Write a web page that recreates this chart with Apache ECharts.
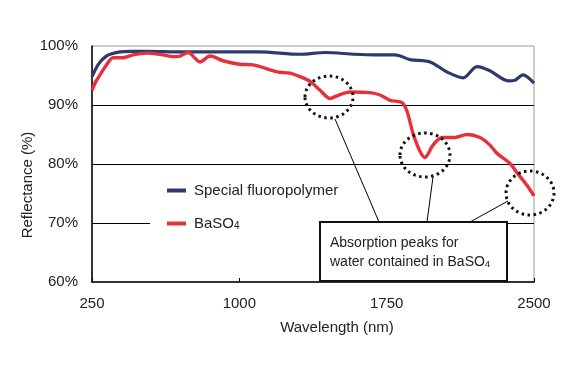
<!DOCTYPE html>
<html>
<head>
<meta charset="utf-8">
<script src="https://cdn.jsdelivr.net/npm/echarts@6/dist/echarts.min.js"></script>
<style>
html,body{margin:0;padding:0;background:#fff;}
#c{width:570px;height:372px;}
</style>
</head>
<body>
<div id="c"></div>
<script>
const seriesNames = ['Special fluoropolymer', 'BaSO4'];
const xTickLabels = [250, 1000, 1750, 2500];
const yTickLabels = [60, 70, 80, 90, 100];

const fluoroWavelength = [250, 270, 291, 320, 342, 393, 443, 530, 700, 850, 1000, 1100, 1309, 1437, 1589, 1690, 1716, 1793, 1869, 1971, 2057, 2139, 2210, 2276, 2368, 2403, 2444, 2500];
const fluoroReflect    = [94.8, 96.2, 97.3, 98.2, 98.6, 99.0, 99.1, 99.1, 99.0, 99.0, 99.0, 99.0, 98.6, 98.9, 98.6, 98.5, 98.5, 98.5, 97.7, 97.3, 95.6, 94.6, 96.5, 95.8, 94.1, 94.2, 95.1, 93.7];

const baso4Wavelength = [250, 270, 291, 320, 357, 408, 459, 530, 611, 662, 698, 739, 800, 851, 917, 1003, 1070, 1192, 1258, 1309, 1360, 1411, 1462, 1500, 1563, 1665, 1716, 1767, 1828, 1854, 1884, 1920, 1945, 1986, 2032, 2098, 2159, 2225, 2276, 2312, 2378, 2414, 2464, 2500];
const baso4Reflect    = [92.5, 94.0, 95.1, 96.6, 98.0, 98.0, 98.5, 98.8, 98.5, 98.2, 98.3, 98.9, 97.3, 98.3, 97.5, 96.9, 96.8, 95.6, 95.4, 94.8, 94.0, 92.5, 91.1, 91.6, 92.2, 92.1, 91.7, 90.8, 90.4, 88.9, 85.2, 82.1, 81.1, 83.2, 84.5, 84.5, 85.0, 84.5, 83.2, 81.8, 80.1, 78.5, 76.4, 74.6];

const FONT = '"Liberation Sans", Arial, Helvetica, sans-serif';

const chart = echarts.init(document.getElementById('c'), null, {renderer: 'canvas'});

const subRich = {
  s: {fontSize: 10, fontFamily: FONT, color: '#222', verticalAlign: 'bottom', padding: [1, 0, 0, 0]}
};

chart.setOption({
  animation: false,
  backgroundColor: '#ffffff',
  grid: {
    left: 92, right: 36, top: 46, bottom: 90,
    show: true, borderColor: '#9a9a9a', borderWidth: 1, backgroundColor: 'transparent'
  },
  legend: {
    orient: 'vertical',
    left: 162, top: 178,
    z: 200,
    icon: 'rect',
    itemWidth: 19, itemHeight: 4,
    itemGap: 18,
    data: seriesNames,
    formatter: function (name) { return name === 'BaSO4' ? 'BaSO{s|4}' : name; },
    textStyle: {fontFamily: FONT, fontSize: 15, color: '#222', padding: [0, 0, 0, 3], rich: subRich}
  },
  xAxis: {
    type: 'value',
    min: 250, max: 2500,
    axisLine: {show: true, lineStyle: {color: '#000', width: 1.5}},
    axisTick: {show: true, inside: true, length: 4, lineStyle: {color: '#000'}, customValues: xTickLabels},
    axisLabel: {customValues: xTickLabels, margin: 14, fontFamily: FONT, fontSize: 15, color: '#222',
                formatter: function (v) { return String(v); }},
    splitLine: {show: false}
  },
  yAxis: {
    type: 'value',
    min: 60, max: 100, interval: 10,
    axisLine: {show: true, lineStyle: {color: '#000', width: 1.5}},
    axisTick: {show: false},
    axisLabel: {margin: 14, fontFamily: FONT, fontSize: 15, color: '#222', formatter: '{value}%'},
    splitLine: {show: true, showMinLine: false, showMaxLine: false, lineStyle: {color: '#000', width: 1}}
  },
  series: [
    {
      name: seriesNames[0], type: 'line', showSymbol: false, smooth: 0.3,
      z: 3,
      lineStyle: {color: '#2e3a6c', width: 3.2},
      itemStyle: {color: '#2e3a6c'},
      data: fluoroWavelength.map((w, i) => [w, fluoroReflect[i]])
    },
    {
      name: seriesNames[1], type: 'line', showSymbol: false, smooth: 0.3,
      z: 4,
      lineStyle: {color: '#e5323a', width: 3.4},
      itemStyle: {color: '#e5323a'},
      data: baso4Wavelength.map((w, i) => [w, baso4Reflect[i]])
    }
  ],
  graphic: [
    {type: 'rect', z: 50, shape: {x: 150, y: 200, width: 170, height: 35}, style: {fill: '#fff'}},
    {type: 'text', z: 60, x: 28, y: 185, rotation: Math.PI / 2,
     style: {text: 'Reflectance (%)', font: '15px ' + FONT, fill: '#222', align: 'center', verticalAlign: 'middle'}},
    {type: 'text', z: 60, x: 337, y: 328,
     style: {text: 'Wavelength (nm)', font: '15px ' + FONT, fill: '#222', align: 'center', verticalAlign: 'middle'}},
    {type: 'line', z: 60, shape: {x1: 335, y1: 119, x2: 379, y2: 222}, style: {stroke: '#000', lineWidth: 1}},
    {type: 'line', z: 60, shape: {x1: 433, y1: 177, x2: 427, y2: 222}, style: {stroke: '#000', lineWidth: 1}},
    {type: 'line', z: 60, shape: {x1: 508, y1: 201, x2: 470, y2: 222}, style: {stroke: '#000', lineWidth: 1}},
    {type: 'ellipse', z: 70, shape: {cx: 329, cy: 97, rx: 24, ry: 21}, style: {fill: null, stroke: '#111', lineWidth: 3, lineDash: [2.5, 3.5]}},
    {type: 'ellipse', z: 70, shape: {cx: 425, cy: 155, rx: 25, ry: 22}, style: {fill: null, stroke: '#111', lineWidth: 3, lineDash: [2.5, 3.5]}},
    {type: 'ellipse', z: 70, shape: {cx: 530, cy: 193, rx: 24, ry: 22}, style: {fill: null, stroke: '#111', lineWidth: 3, lineDash: [2.5, 3.5]}},
    {type: 'rect', z: 80, shape: {x: 320, y: 222, width: 187, height: 59}, style: {fill: '#fff', stroke: '#111', lineWidth: 2}},
    {type: 'text', z: 90, x: 330, y: 234,
     style: {text: 'Absorption peaks for\nwater contained in BaSO{s|4}', font: '14px ' + FONT, fill: '#222',
             lineHeight: 19, rich: {s: {fontSize: 9.5, fontFamily: FONT, fill: '#222', verticalAlign: 'bottom', padding: [0, 0, 3, 0]}}}}
  ]
});
</script>
</body>
</html>
